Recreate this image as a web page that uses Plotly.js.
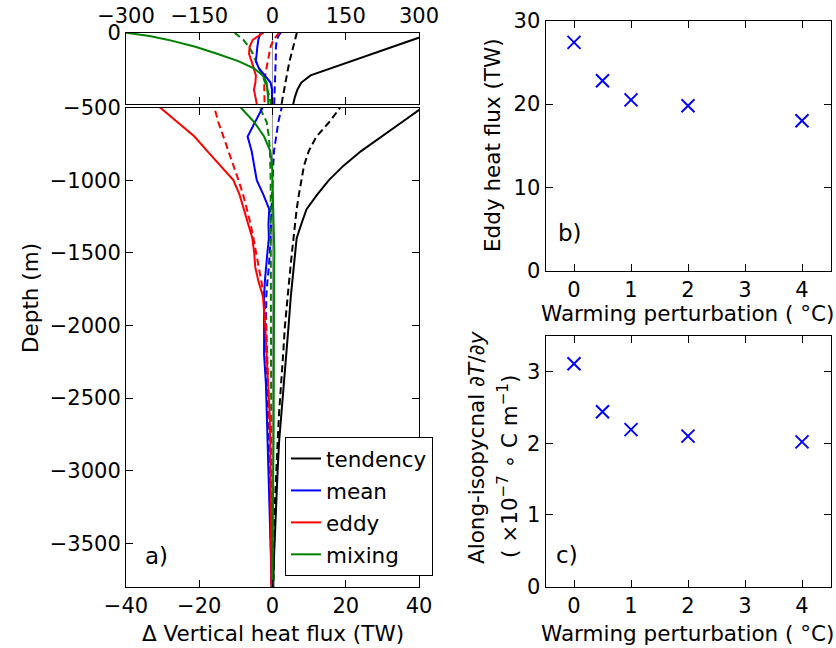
<!DOCTYPE html>
<html><head><meta charset="utf-8">
<script src="https://cdn.plot.ly/plotly-3.0.1.min.js"></script>
<style>html,body{margin:0;padding:0;background:#fff}#chart{width:836px;height:648px}</style>
</head><body><div id="chart"></div>
<script>
// depth levels (m)
const depth = [0,-25,-50,-100,-150,-200,-250,-300,-350,-400,-450,-500,
  -600,-700,-800,-900,-1000,-1100,-1200,-1300,-1400,-1500,-1600,-1700,-1800,
  -2000,-2200,-2400,-2600,-2800,-3000,-3200,-3400,-3600,-3800];
// Δ vertical heat flux (TW), solid and dashed runs
const tendencySolid = [330,309,288,247,206,165,120,78,59,51,46,41,
  35.4,29.8,24.2,19.4,15.4,12.2,9.3,7.9,6.6,6.2,5.8,5.4,5.0,
  4.4,3.7,3.1,2.5,1.8,1.4,1.0,0.7,0.4,0.2];
const tendencyDashed = [50,48,46,42,38.5,35,32,29,26.5,24,21.5,18.5,
  15.5,12,9.9,8.6,7.8,7.2,6.6,6.1,5.7,5.3,4.9,4.5,4.1,
  3.4,2.9,2.3,1.8,1.4,1.0,0.7,0.5,0.3,0.2];
const meanSolid = [-24,-27,-29,-31,-33,-34,-28,-16,-4,-1,-2,-2.7,
  -4.8,-6.8,-5.7,-5.0,-4.3,-2.5,-0.9,-1.1,-1.0,-1.4,-1.8,-2.1,-2.3,
  -2.4,-2.3,-1.8,-1.6,-1.4,-1.1,-0.8,-0.6,-0.4,-0.2];
const meanDashed = [17,12,9,7,7,6.5,6.5,6,5.5,5,4,2.5,
  1.6,0.9,0.4,0.2,0.1,0,-0.2,-0.4,-0.5,-0.7,-1.0,-1.4,-1.7,
  -1.8,-1.7,-1.5,-1.2,-0.9,-0.8,-0.6,-0.5,-0.4,-0.3];
const eddySolid = [-18,-30,-40,-47,-48,-43,-38,-34,-35,-38,-35,-30.7,
  -26,-21.3,-17.8,-14.3,-10.7,-9.0,-7.8,-6.6,-5.5,-5.0,-4.7,-3.8,-2.6,
  -2.0,-1.6,-1.0,-0.8,-0.6,-0.5,-0.45,-0.4,-0.35,-0.3];
const eddyDashed = [14,8,2,-4,-7,-10,-13,-15,-17,-17,-16,-15.9,
  -14.8,-13.4,-12,-10.5,-9.3,-8.0,-6.9,-6.0,-5.2,-4.5,-3.7,-3.0,-2.3,
  -1.7,-1.4,-1.1,-0.9,-0.7,-0.6,-0.5,-0.4,-0.35,-0.3];
const mixingSolid = [-302,-252,-215,-158,-112,-70,-38,-20,-12,-10,-9,-8.7,
  -5.0,-2.3,-0.6,-0.1,0,0.1,0.1,0.2,0.5,0.5,0.45,0.45,0.4,
  0.4,0.4,0.4,0.4,0.3,0.2,0.1,0.05,0,0];
const mixingDashed = [-78,-68,-60,-48,-40,-34,-27,-21,-15,-10,-6,-3.5,
  -1.6,-1.0,-0.7,-0.5,-0.5,-0.5,-0.5,-0.5,-0.5,-0.5,-0.5,-0.5,-0.5,
  -0.5,-0.5,-0.45,-0.45,-0.4,-0.4,-0.35,-0.3,-0.25,-0.2];
// panels b) and c)
const warming = [0, 0.5, 1, 2, 4];
const eddyFlux = [27.4, 22.8, 20.5, 19.8, 18.0];
const gradT = [3.11, 2.44, 2.19, 2.10, 2.02];

const W = 836, H = 648;
const px = v => v / W, py = v => 1 - v / H;
const FONT = 'DejaVu Sans';

const series = [
  {name:'tendency', color:'#000000', solid:tendencySolid, dashed:tendencyDashed},
  {name:'mean', color:'#0000ff', solid:meanSolid, dashed:meanDashed},
  {name:'eddy', color:'#ff0000', solid:eddySolid, dashed:eddyDashed},
  {name:'mixing', color:'#008000', solid:mixingSolid, dashed:mixingDashed}
];

const traces = [];
for (const [xa, ya, leg] of [['x','y',true],['x2','y2',false]]) {
  for (const s of series) {
    traces.push({type:'scatter', mode:'lines', x:s.dashed, y:depth, xaxis:xa, yaxis:ya,
      line:{color:s.color, width:2, dash:'7px,4px'}, showlegend:false, hoverinfo:'skip'});
  }
  for (const s of series) {
    traces.push({type:'scatter', mode:'lines', x:s.solid, y:depth, xaxis:xa, yaxis:ya,
      line:{color:s.color, width:2}, name:s.name, legendgroup:s.name, showlegend:leg, hoverinfo:'skip'});
  }
}
const mk = {symbol:'x-thin', size:13, color:'#0000ff', line:{color:'#0000ff', width:2}};
traces.push({type:'scatter', mode:'markers', x:warming, y:eddyFlux, xaxis:'x3', yaxis:'y3', marker:mk, showlegend:false});
traces.push({type:'scatter', mode:'markers', x:warming, y:gradT, xaxis:'x4', yaxis:'y4', marker:mk, showlegend:false});

const ax = {showline:true, linecolor:'#000', linewidth:1, mirror:'allticks', ticks:'inside',
  ticklen:7, tickwidth:1, tickcolor:'#000', showgrid:false, zeroline:false,
  tickfont:{family:FONT, size:21, color:'#000'}, tickmode:'array', fixedrange:true};
const leftDom = [px(126), px(419)];
const rightDom = [px(545.5), px(830.5)];

const layout = {
  width:W, height:H, margin:{l:0,r:0,t:0,b:0}, paper_bgcolor:'#fff', plot_bgcolor:'#fff',
  font:{family:FONT, size:21, color:'#000'},
  xaxis:{...ax, domain:leftDom, range:[-40,40], tickvals:[-40,-20,0,20,40], anchor:'y',
    zeroline:true, zerolinecolor:'#999', zerolinewidth:1},
  yaxis:{...ax, domain:[py(587), py(107.5)], range:[-3800,-500],
    tickvals:[-3500,-3000,-2500,-2000,-1500,-1000,-500], anchor:'x'},
  xaxis2:{...ax, domain:leftDom, range:[-300,300], tickvals:[-300,-150,0,150,300], side:'top', anchor:'y2',
    zeroline:true, zerolinecolor:'#999', zerolinewidth:1},
  yaxis2:{...ax, domain:[py(104), py(32.5)], range:[-500,0], tickvals:[-500,0], ticktext:['','0'], anchor:'x2'},
  xaxis3:{...ax, domain:rightDom, range:[-0.5,4.5], tickvals:[0,1,2,3,4], anchor:'y3'},
  yaxis3:{...ax, domain:[py(270.7), py(20.7)], range:[0,30], tickvals:[0,10,20,30], anchor:'x3'},
  xaxis4:{...ax, domain:rightDom, range:[-0.5,4.5], tickvals:[0,1,2,3,4], anchor:'y4'},
  yaxis4:{...ax, domain:[py(586.7), py(335.7)], range:[0,3.5], tickvals:[0,1,2,3], anchor:'x4'},
  legend:{x:px(285), y:py(437), xanchor:'left', yanchor:'top', bgcolor:'#fff', bordercolor:'#000',
    borderwidth:1, font:{family:FONT, size:21.5, color:'#000'}, tracegroupgap:1, itemwidth:30},
  showlegend:true,
  annotations:[
    {text:'Depth (m)', x:px(30), y:py(298), textangle:-90},
    {text:'Δ Vertical heat flux (TW)', x:px(272.5), y:py(633)},
    {text:'Eddy heat flux (TW)', x:px(492), y:py(145), textangle:-90},
    {text:'Warming perturbation ( °C)', x:px(687), y:py(314)},
    {text:'Warming perturbation ( °C)', x:px(687), y:py(633)},
    {text:'Along-isopycnal <i>∂T</i>/<i>∂y</i>', x:px(476), y:py(448), textangle:-90},
    {text:'( ×10<sup>−7</sup> ∘ C m<sup>−1</sup>)', x:px(508), y:py(466), textangle:-90},
    {text:'a)', x:px(156), y:py(556), font:{size:23}},
    {text:'b)', x:px(570), y:py(233), font:{size:23}},
    {text:'c)', x:px(567), y:py(555), font:{size:23}}
  ].map(a => Object.assign({xref:'paper', yref:'paper', showarrow:false, xanchor:'center', yanchor:'middle',
      font:{family:FONT, size:21.5, color:'#000'}}, a))
};

Plotly.newPlot('chart', traces, layout, {staticPlot:true, displayModeBar:false});
</script></body></html>
